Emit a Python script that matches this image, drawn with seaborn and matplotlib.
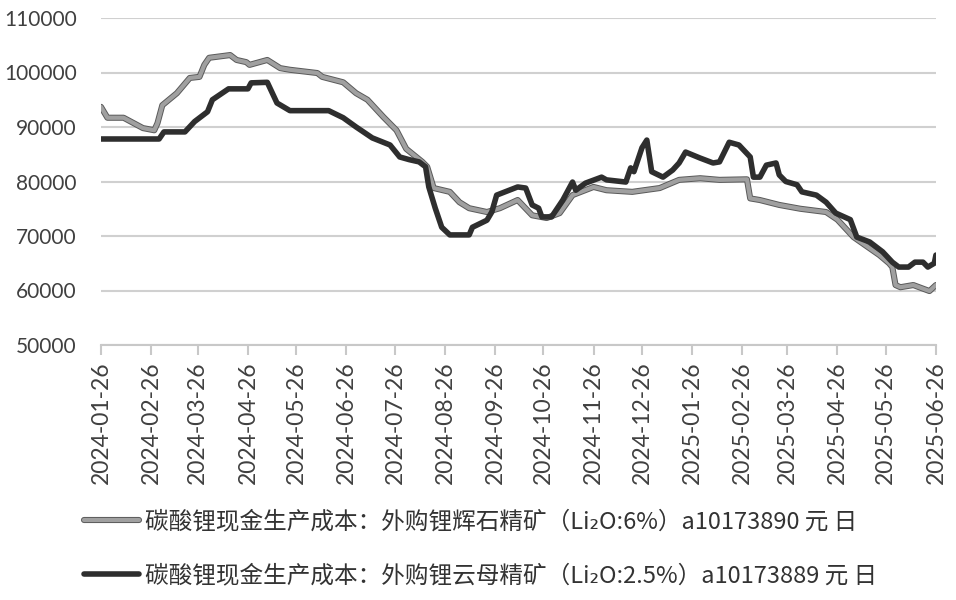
import pandas as pd
import seaborn as sns
import matplotlib.pyplot as plt
import matplotlib.dates as mdates
import matplotlib.patheffects as pe

# 外购锂辉石精矿 (gray series)
spod_dates = ["2024-01-26", "2024-01-30", "2024-02-09", "2024-02-21", "2024-02-28", "2024-03-01",
              "2024-03-04", "2024-03-13", "2024-03-21", "2024-03-27", "2024-03-30", "2024-04-02",
              "2024-04-15", "2024-04-19", "2024-04-25", "2024-04-27", "2024-05-08", "2024-05-16",
              "2024-05-22", "2024-06-08", "2024-06-11", "2024-06-24", "2024-07-02", "2024-07-09",
              "2024-07-19", "2024-07-27", "2024-08-02", "2024-08-12", "2024-08-15", "2024-08-19",
              "2024-08-29", "2024-09-04", "2024-09-10", "2024-09-21", "2024-09-29", "2024-10-10",
              "2024-10-19", "2024-10-28", "2024-11-05", "2024-11-13", "2024-11-26", "2024-12-04",
              "2024-12-20", "2025-01-06", "2025-01-18", "2025-01-31", "2025-02-12", "2025-03-01",
              "2025-03-03", "2025-03-09", "2025-03-21", "2025-04-03", "2025-04-19", "2025-04-26",
              "2025-05-06", "2025-05-22", "2025-05-28", "2025-05-30", "2025-06-01", "2025-06-04",
              "2025-06-12", "2025-06-22", "2025-06-26"]
spod_values = [93700, 91700, 91700, 89800, 89400, 90700,
               94000, 96200, 99000, 99200, 101400, 102700,
               103200, 102300, 101900, 101400, 102300, 100800,
               100500, 99900, 99200, 98200, 96200, 95000,
               91800, 89400, 86000, 83600, 82700, 78800,
               78100, 76200, 75100, 74400, 75100, 76600,
               73800, 73300, 74200, 77500, 79000, 78400,
               78100, 78800, 80300, 80600, 80300, 80400,
               76900, 76600, 75700, 75000, 74400, 73000,
               69800, 66500, 65000, 64300, 61000, 60600,
               61000, 59900, 61000]

# 外购锂云母精矿 (black series)
lepi_dates = ["2024-01-26", "2024-03-02", "2024-03-05", "2024-03-18", "2024-03-24", "2024-04-01",
              "2024-04-04", "2024-04-10", "2024-04-14", "2024-04-26", "2024-04-28", "2024-05-08",
              "2024-05-14", "2024-05-22", "2024-06-15", "2024-06-24", "2024-07-02", "2024-07-12",
              "2024-07-23", "2024-07-29", "2024-08-04", "2024-08-10", "2024-08-14", "2024-08-16",
              "2024-08-20", "2024-08-24", "2024-08-29", "2024-09-10", "2024-09-12", "2024-09-21",
              "2024-09-24", "2024-09-27", "2024-10-10", "2024-10-15", "2024-10-19", "2024-10-23",
              "2024-10-25", "2024-10-31", "2024-11-07", "2024-11-13", "2024-11-15", "2024-11-21",
              "2024-12-01", "2024-12-04", "2024-12-16", "2024-12-19", "2024-12-21", "2024-12-26",
              "2024-12-29", "2025-01-01", "2025-01-08", "2025-01-14", "2025-01-18", "2025-01-22",
              "2025-01-31", "2025-02-08", "2025-02-12", "2025-02-18", "2025-02-24", "2025-03-03",
              "2025-03-05", "2025-03-09", "2025-03-13", "2025-03-19", "2025-03-21", "2025-03-25",
              "2025-04-01", "2025-04-04", "2025-04-13", "2025-04-19", "2025-04-25", "2025-05-04",
              "2025-05-08", "2025-05-16", "2025-05-24", "2025-05-30", "2025-06-03", "2025-06-09",
              "2025-06-13", "2025-06-18", "2025-06-21", "2025-06-25", "2025-06-26"]
lepi_values = [87800, 87800, 89100, 89100, 91000, 92800,
               95000, 96200, 97000, 97000, 98100, 98200,
               94400, 93000, 93000, 91700, 90000, 88000,
               86700, 84500, 84000, 83600, 82700, 79000,
               75100, 71600, 70200, 70200, 71600, 72900,
               74400, 77500, 79000, 78800, 75700, 75100,
               73500, 73500, 76600, 79900, 78400, 79700,
               80800, 80300, 79900, 82500, 81800, 86200,
               87600, 81800, 80800, 82100, 83400, 85400,
               84300, 83400, 83600, 87200, 86700, 84500,
               80800, 80800, 83000, 83400, 81200, 80000,
               79400, 78100, 77500, 76200, 74200, 73000,
               69800, 68900, 67100, 65200, 64300, 64300,
               65200, 65200, 64300, 65000, 66500]

labels = ["碳酸锂现金生产成本：外购锂辉石精矿（Li₂O:6%）a10173890 元 日",
          "碳酸锂现金生产成本：外购锂云母精矿（Li₂O:2.5%）a10173889 元 日"]

y_ticks = [50000, 60000, 70000, 80000, 90000, 100000, 110000]
x_ticks = pd.date_range("2024-01-26", periods=18, freq=pd.DateOffset(months=1))

df = pd.concat([
    pd.DataFrame({"date": pd.to_datetime(spod_dates), "value": spod_values, "series": labels[0]}),
    pd.DataFrame({"date": pd.to_datetime(lepi_dates), "value": lepi_values, "series": labels[1]}),
])

sns.set_style("white")
plt.rcParams["font.family"] = ["Lato", "DejaVu Sans"]

fig = plt.figure(figsize=(9.56, 6.0), dpi=100)
ax = fig.add_axes([0.1056, 0.425, 0.8734, 0.545])

sns.lineplot(data=df, x="date", y="value", hue="series", estimator=None, sort=False,
             palette=["#a0a0a0", "#2e2e2e"], linewidth=3.6, legend=False, ax=ax)

gray_line, black_line = ax.lines[0], ax.lines[1]
gray_line.set_linewidth(3.0)
gray_line.set_path_effects([pe.Stroke(linewidth=4.4, foreground="#5a5a5a"), pe.Normal()])
black_line.set_linewidth(4.0)
for ln in (gray_line, black_line):
    ln.set_solid_capstyle("round")
    ln.set_solid_joinstyle("round")

ax.set_ylim(50000, 110000)
ax.set_yticks(y_ticks)
ax.set_xlim(x_ticks[0], x_ticks[-1])
ax.set_xticks(x_ticks)
ax.xaxis.set_major_formatter(mdates.DateFormatter("%Y-%m-%d"))
ax.yaxis.grid(True, color="#d0d0d0", linewidth=1.5)
ax.set_axisbelow(True)
ax.set_xlabel("")
ax.set_ylabel("")

for side in ["left", "right", "top"]:
    ax.spines[side].set_visible(False)
ax.spines["bottom"].set_color("#c8c8c8")
ax.spines["bottom"].set_linewidth(1.5)

ax.tick_params(axis="x", which="major", bottom=True, length=7, width=1.5, color="#c8c8c8",
               labelrotation=90, labelsize=16.5, labelcolor="#404040", pad=5)
ax.tick_params(axis="y", left=False, labelsize=15, labelcolor="#404040", pad=14)

fig.legend(handles=[gray_line, black_line], labels=labels, loc="lower left",
           bbox_to_anchor=(0.066, -0.014), frameon=False, handlelength=2.3, handletextpad=0.25,
           labelspacing=1.3, labelcolor="#333333",
           prop={"family": ["Noto Sans CJK SC", "DejaVu Sans"], "size": 17})

fig.savefig("out.png", dpi=100, facecolor="white")
